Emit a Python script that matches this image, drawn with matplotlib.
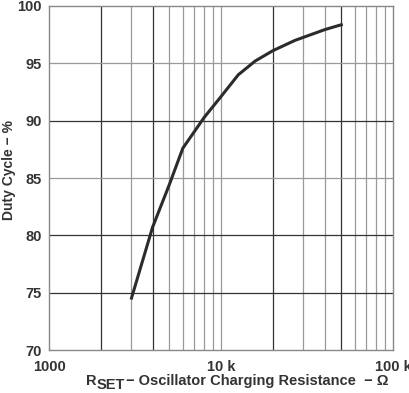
import numpy as np
import matplotlib.pyplot as plt
from matplotlib.ticker import FixedLocator, NullFormatter, NullLocator

# data
r_set = [3000, 4000, 5000, 6000, 8000, 10000, 12600, 15800, 20000, 26900, 40300, 51000]
duty = [74.4, 80.7, 84.4, 87.6, 90.3, 92.1, 94.0, 95.2, 96.1, 97.0, 97.95, 98.4]

x_ticks = [1000, 10000, 100000]
x_tick_labels = ["1000", "10 k", "100 k"]
y_ticks = [70, 75, 80, 85, 90, 95, 100]

plt.rcParams['font.family'] = ['Liberation Sans', 'DejaVu Sans']

fig = plt.figure(figsize=(4.1, 3.93), dpi=100)
ax = fig.add_axes([49 / 410, 43 / 393, 344 / 410, 344 / 393])

ax.set_xscale('log')
ax.set_xlim(1000, 100000)
ax.set_ylim(70, 100)

# grid, some lines darker than others like the scanned original
dark = '#333333'
light = '#999999'
minor_x = [m * d for d in (1000, 10000) for m in range(2, 10)]
dark_x = {2000, 4000, 20000, 50000}
for xv in minor_x:
    ax.axvline(xv, color=dark if xv in dark_x else light, lw=0.9, zorder=1)
ax.axvline(10000, color=light, lw=0.9, zorder=1)
for yv in y_ticks[1:-1]:
    ax.axhline(yv, color=dark if yv in (75, 80, 90) else light, lw=0.9, zorder=1)

ax.plot(r_set, duty, color='#2b2b2b', lw=2.2, solid_capstyle='butt', zorder=3)

ax.xaxis.set_major_locator(FixedLocator(x_ticks))
ax.set_xticklabels(x_tick_labels)
ax.xaxis.set_minor_locator(NullLocator())
ax.xaxis.set_minor_formatter(NullFormatter())
ax.set_yticks(y_ticks)
ax.tick_params(axis='both', length=0, labelsize=10.5)
ax.tick_params(axis='x', pad=7)
ax.tick_params(axis='y', pad=5)
for lab in ax.get_xticklabels() + ax.get_yticklabels():
    lab.set_fontweight('bold')
    lab.set_color('#333333')

for sp in ax.spines.values():
    sp.set_color('#888888')
    sp.set_linewidth(1.0)

fig.text(9 / 410, 1 - 170 / 393, "Duty Cycle \u2212 %", rotation=90, ha='center', va='center',
         fontsize=10, fontweight='bold', color='#333333')

# x label with lowered SET
txt_kw = dict(fontsize=10.5, fontweight='bold', color='#333333', va='baseline')
fig.text(86 / 410, 1 - 385 / 393, "R", **txt_kw)
fig.text(97 / 410, 1 - 389 / 393, "SET", **txt_kw)
fig.text(126 / 410, 1 - 385 / 393, "\u2212 Oscillator Charging Resistance  \u2212 \u03a9", **txt_kw)

plt.savefig("out.png", dpi=100)
